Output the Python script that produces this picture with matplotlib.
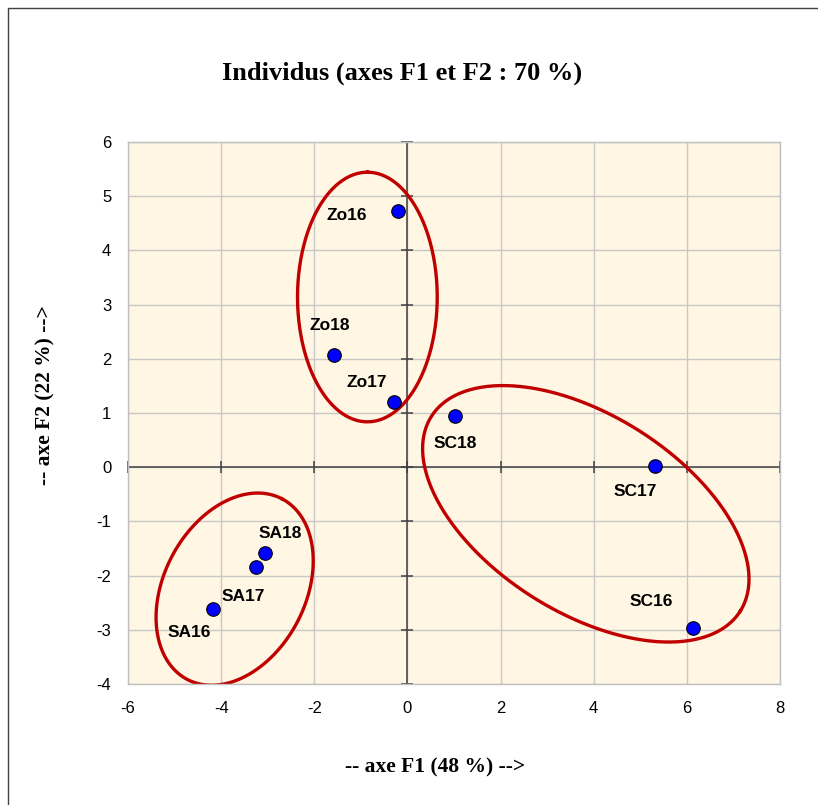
import numpy as np
import matplotlib.pyplot as plt
from matplotlib.patches import Rectangle

# individuals (PCA scores on F1 / F2)
names = ["Zo16", "Zo18", "Zo17", "SC18", "SC17", "SC16", "SA18", "SA17", "SA16"]
f1 = [-0.21, -1.58, -0.28, 1.03, 5.32, 6.14, -3.05, -3.25, -4.18]
f2 = [4.73, 2.07, 1.20, 0.95, 0.02, -2.97, -1.59, -1.84, -2.61]

# label offsets in points relative to each marker
label_dx = [-37, -3, -20, 0, -14, -30, 11, -9, -17]
label_dy = [-3, 21, 14, -20, -18, 19, 14, -21, -17]

# group ellipses: centre (F1, F2), semi-axes (in F1 units), angle in degrees on screen
ell_cx = [-0.86, 3.83, -3.71]
ell_cy = [3.14, -0.86, -2.25]
ell_a = [2.68, 3.92, 2.19]
ell_b = [1.50, 2.12, 1.52]
ell_ang = [90.0, -32.2, 62.3]

xticks = np.arange(-6, 9, 2)
yticks = np.arange(-4, 7, 1)

plt.rcParams['font.family'] = ['Liberation Sans', 'DejaVu Sans']
plt.rcParams['axes.unicode_minus'] = False

fig = plt.figure(figsize=(8.18, 8.05), dpi=100)
ax = fig.add_axes([128 / 818, 1 - 684 / 805, 652 / 818, 542 / 805])
ax.set_facecolor('#FFF7E3')
ax.set_xlim(-6, 8)
ax.set_ylim(-4, 6)
ax.set_xticks(xticks)
ax.set_yticks(yticks)
ax.tick_params(length=0, labelsize=12, pad=12)
ax.grid(True, color='#C8C8C8', linewidth=1)
ax.set_axisbelow(True)
for s in ax.spines.values():
    s.set_color('#C0C0C0')
    s.set_linewidth(1)

# axes through the origin with crossing tick marks
ax.axhline(0, color='#404040', linewidth=1.1, zorder=1)
ax.axvline(0, color='#404040', linewidth=1.1, zorder=1)
ax.plot(xticks, np.zeros(len(xticks)), linestyle='none', marker='|', markersize=9,
        color='#404040', markeredgewidth=1.1, zorder=1, clip_on=False)
ax.plot(np.zeros(len(yticks)), yticks, linestyle='none', marker='_', markersize=9,
        color='#404040', markeredgewidth=1.1, zorder=1, clip_on=False)

# ellipses drawn in screen proportions
bbox = ax.get_position()
sx = bbox.width * fig.get_figwidth() * fig.dpi / 14
sy = bbox.height * fig.get_figheight() * fig.dpi / 10
t = np.linspace(0, 2 * np.pi, 400)
for cx, cy, a, b, ang in zip(ell_cx, ell_cy, ell_a, ell_b, ell_ang):
    th = np.deg2rad(ang)
    px = a * sx * np.cos(t) * np.cos(th) - b * sx * np.sin(t) * np.sin(th)
    py = a * sx * np.cos(t) * np.sin(th) + b * sx * np.sin(t) * np.cos(th)
    ax.plot(cx + px / sx, cy + py / sy, color='#C00000', linewidth=2.4, zorder=2)

ax.scatter(f1, f2, s=95, color='#0000FF', edgecolors='black', linewidths=0.8, zorder=3)
for n, x, y, dx, dy in zip(names, f1, f2, label_dx, label_dy):
    ax.annotate(n, (x, y), xytext=(dx, dy), textcoords='offset points',
                ha='center', va='center', fontsize=12.5, fontweight='bold')

fig.text(402 / 818, 1 - 73 / 805, "Individus (axes F1 et F2 : 70 %)", ha='center', va='center',
         fontsize=19, fontweight='bold', family='Liberation Serif')
fig.text(435 / 818, 1 - 767 / 805, "-- axe F1 (48 %) -->", ha='center', va='center',
         fontsize=15.5, fontweight='bold', family='Liberation Serif')
fig.text(45 / 818, 1 - 395 / 805, "-- axe F2 (22 %) -->", ha='center', va='center',
         rotation=90, fontsize=15.5, fontweight='bold', family='Liberation Serif')

# outer chart frame
fig.patches.append(Rectangle((8 / 818, -0.1), 1.2, 1.1 - 8 / 805, transform=fig.transFigure,
                             fill=False, edgecolor='#404040', linewidth=1))

fig.savefig('out.png', dpi=100)
